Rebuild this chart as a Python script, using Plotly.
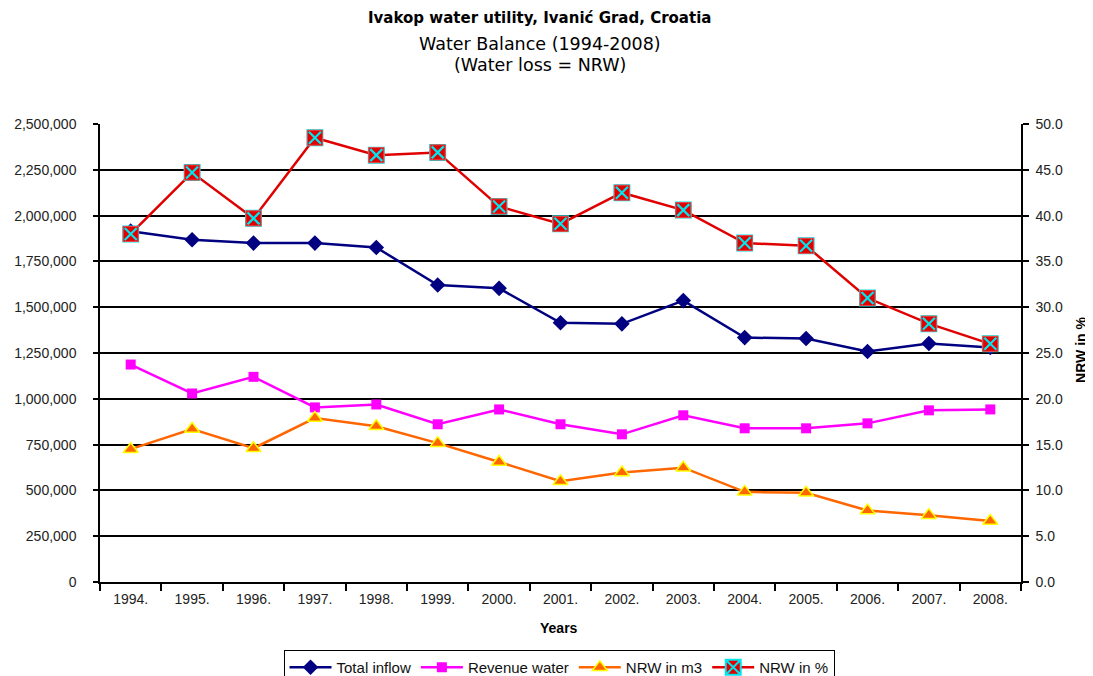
import plotly.graph_objects as go

years = ["1994.", "1995.", "1996.", "1997.", "1998.", "1999.", "2000.", "2001.",
         "2002.", "2003.", "2004.", "2005.", "2006.", "2007.", "2008."]
total_inflow = [1915000, 1868000, 1850000, 1850000, 1826000, 1621000, 1603000, 1415000,
                1409000, 1536000, 1334000, 1329000, 1258000, 1302000, 1280000]
revenue_water = [1187000, 1029000, 1120000, 953000, 969000, 861000, 942000, 861000,
                 806000, 910000, 839000, 839000, 866000, 937000, 942000]
nrw_m3 = [725000, 835000, 730000, 895000, 850000, 758000, 655000, 550000,
          598000, 624000, 492000, 487000, 390000, 365000, 333000]
nrw_pct = [38.0, 44.7, 39.7, 48.5, 46.6, 46.9, 41.0, 39.1,
           42.5, 40.6, 37.0, 36.7, 31.0, 28.2, 26.0]

FONT = "Liberation Sans, Arial, sans-serif"
WIDE = "DejaVu Sans, Verdana, sans-serif"

fig = go.Figure()
fig.add_trace(go.Scatter(
    x=years, y=total_inflow, name="Total inflow", mode="lines+markers",
    line=dict(color="#000080", width=2.5),
    marker=dict(symbol="diamond", size=12, color="#000080", line=dict(width=0)),
))
fig.add_trace(go.Scatter(
    x=years, y=revenue_water, name="Revenue water", mode="lines+markers",
    line=dict(color="#FF00FF", width=2.5),
    marker=dict(symbol="square", size=10, color="#FF00FF", line=dict(width=0)),
))
fig.add_trace(go.Scatter(
    x=years, y=nrw_m3, name="NRW in m3", mode="lines+markers",
    line=dict(color="#FF6600", width=2.5),
    marker=dict(symbol="triangle-up", size=13, color="#FF6600",
                line=dict(color="#FFFF00", width=1.5)),
))
fig.add_trace(go.Scatter(
    x=years, y=nrw_pct, name="NRW in %", mode="lines+markers", yaxis="y2",
    line=dict(color="#E00000", width=2.5),
    marker=dict(symbol="square-x", size=15, color="#E00000",
                line=dict(color="#00E5EE", width=2)),
))
fig.add_trace(go.Scatter(
    x=years, y=nrw_pct, mode="markers", yaxis="y2", showlegend=False, hoverinfo="skip",
    marker=dict(symbol="square", size=15, color="#E00000",
                line=dict(color="#F04040", width=1)),
))
fig.add_trace(go.Scatter(
    x=years, y=nrw_pct, mode="markers", yaxis="y2", showlegend=False, hoverinfo="skip",
    marker=dict(symbol="x-thin", size=12, color="#00E5EE",
                line=dict(color="#00E5EE", width=2.2)),
))

fig.update_layout(
    width=1085, height=668,
    margin=dict(l=92, r=72, t=116, b=94, autoexpand=False),
    paper_bgcolor="white", plot_bgcolor="white",
    font=dict(family=FONT, size=13, color="#111111"),
    showlegend=True,
    legend=dict(orientation="h", x=0.4984, xanchor="center", y=-0.1485, yanchor="top",
                bordercolor="black", borderwidth=1, bgcolor="white",
                font=dict(family=FONT, size=15, color="#111111"),
                itemwidth=42, tracegroupgap=0),
    xaxis=dict(
        type="category", showgrid=False, showline=True, linecolor="black", linewidth=1.5,
        ticks="outside", tickson="boundaries", ticklen=7, tickcolor="black", tickwidth=1.5,
        tickfont=dict(family=FONT, size=14, color="#222222"), ticklabelstandoff=3,
        range=[-0.5, 14.5], mirror=False,
    ),
    yaxis=dict(
        range=[0, 2500000], dtick=250000, tickformat=",", showgrid=True,
        gridcolor="black", gridwidth=1.5, showline=True, linecolor="black", linewidth=1.5,
        ticks="outside", ticklen=5, tickcolor="black", tickwidth=1.5, zeroline=False,
        tickfont=dict(family=FONT, size=14, color="#222222"), ticklabelstandoff=14,
    ),
    yaxis2=dict(
        range=[0, 50], dtick=5, tickformat=".1f", overlaying="y", side="right",
        showgrid=False, showline=True, linecolor="black", linewidth=1.5,
        ticks="outside", ticklen=6, tickcolor="black", tickwidth=1.5, zeroline=False,
        tickfont=dict(family=FONT, size=14, color="#222222"), ticklabelstandoff=4,
    ),
    annotations=[
        dict(text="<b>Ivakop water utility, Ivanić Grad, Croatia</b>", xref="paper", yref="paper",
             x=0.4777, y=1.2314, xanchor="center", yanchor="middle", showarrow=False,
             font=dict(family=WIDE, size=15, color="black")),
        dict(text="Water Balance (1994-2008)", xref="paper", yref="paper",
             x=0.4777, y=1.1747, xanchor="center", yanchor="middle", showarrow=False,
             font=dict(family=WIDE, size=17.5, color="black")),
        dict(text="(Water loss = NRW)", xref="paper", yref="paper",
             x=0.4777, y=1.1288, xanchor="center", yanchor="middle", showarrow=False,
             font=dict(family=WIDE, size=17.5, color="black")),
        dict(text="<b>Years</b>", xref="paper", yref="paper",
             x=0.4984, y=-0.1004, xanchor="center", yanchor="middle", showarrow=False,
             font=dict(family=FONT, size=14, color="black")),
        dict(text="<b>NRW in %</b>", xref="paper", yref="paper", textangle=-90,
             x=1.0651, y=0.5066, xanchor="center", yanchor="middle", showarrow=False,
             font=dict(family=FONT, size=14, color="black")),
    ],
)

fig.write_html("out.html")
